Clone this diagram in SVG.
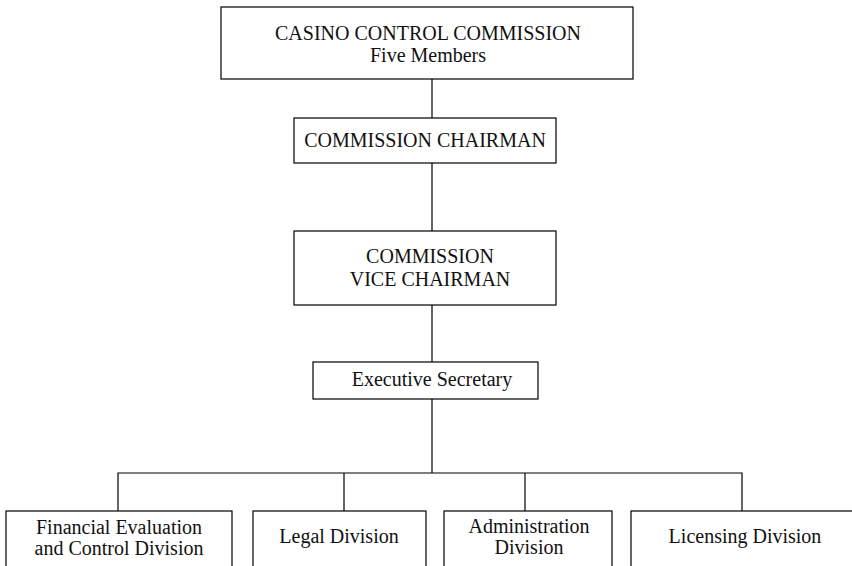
<svg xmlns="http://www.w3.org/2000/svg" width="852" height="566" viewBox="0 0 852 566">
  <style>
    .box { fill: #ffffff; stroke: #000000; stroke-width: 1.2; }
    .lbl { font-family: "Liberation Serif", "Times New Roman", serif; font-size: 20px; fill: #111111; text-anchor: middle; }
    .wire { fill: none; stroke: #000000; stroke-width: 1.2; }
  </style>
  <rect width="852" height="566" fill="#ffffff"/>

  <!-- connectors -->
  <g id="connectors">
    <line class="wire" x1="432" y1="79" x2="432" y2="118"/>
    <line class="wire" x1="432" y1="163" x2="432" y2="231"/>
    <line class="wire" x1="432" y1="305" x2="432" y2="362"/>
    <line class="wire" x1="432" y1="399" x2="432" y2="473"/>
    <polyline class="wire" points="118,511 118,473 742,473 742,511"/>
    <line class="wire" x1="344" y1="473" x2="344" y2="511"/>
    <line class="wire" x1="525" y1="473" x2="525" y2="511"/>
  </g>

  <g id="commission">
    <rect class="box" x="221" y="7" width="412" height="72"/>
    <text class="lbl" x="428" y="40">CASINO CONTROL COMMISSION</text>
    <text class="lbl" x="428" y="62">Five Members</text>
  </g>

  <g id="chairman">
    <rect class="box" x="294" y="118" width="262" height="45"/>
    <text class="lbl" x="425" y="147">COMMISSION CHAIRMAN</text>
  </g>

  <g id="vice-chairman">
    <rect class="box" x="294" y="231" width="262" height="74"/>
    <text class="lbl" x="430" y="263">COMMISSION</text>
    <text class="lbl" x="430" y="286">VICE CHAIRMAN</text>
  </g>

  <g id="executive-secretary">
    <rect class="box" x="313" y="362" width="225" height="37"/>
    <text class="lbl" x="432" y="386">Executive Secretary</text>
  </g>

  <g id="financial-division">
    <rect class="box" x="6" y="511" width="226" height="70"/>
    <text class="lbl" x="119" y="534">Financial Evaluation</text>
    <text class="lbl" x="119" y="555">and Control Division</text>
  </g>

  <g id="legal-division">
    <rect class="box" x="253" y="511" width="173" height="70"/>
    <text class="lbl" x="339" y="543">Legal Division</text>
  </g>

  <g id="administration-division">
    <rect class="box" x="444" y="511" width="168" height="70"/>
    <text class="lbl" x="529" y="533">Administration</text>
    <text class="lbl" x="529" y="554">Division</text>
  </g>

  <g id="licensing-division">
    <rect class="box" x="631" y="511" width="240" height="70"/>
    <text class="lbl" x="745" y="543">Licensing Division</text>
  </g>
</svg>
